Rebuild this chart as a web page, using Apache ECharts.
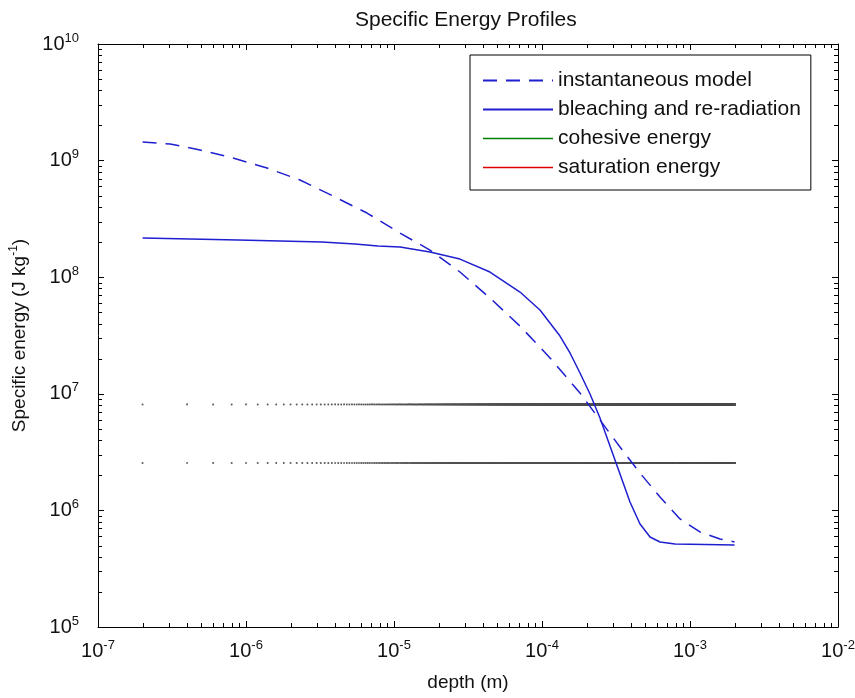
<!DOCTYPE html>
<html><head><meta charset="utf-8">
<script src="https://cdn.jsdelivr.net/npm/echarts@6/dist/echarts.min.js"></script>
<style>html,body{margin:0;padding:0;background:#fff}#c{width:855px;height:698px}</style>
</head><body><div id="c"></div>
<script>
const chartTitle = 'Specific Energy Profiles';
const xAxisTitle = 'depth (m)';
const yAxisTitle = ['Specific energy (J kg', '-1', ')'];
const seriesNames = ['instantaneous model', 'bleaching and re-radiation', 'cohesive energy', 'saturation energy'];
const xRange = [1e-7, 1e-2];
const yRange = [1e5, 1e10];

// instantaneous model (dashed)
const instantDepth = [2e-7, 3.07e-7, 4.89e-7, 8.17e-7, 1.386e-6, 2.317e-6, 3.87e-6, 6.57e-6, 1.098e-5, 1.75e-5, 2.79e-5, 4.45e-5, 7.10e-5, 1.133e-4, 1.806e-4, 2.465e-4, 3.365e-4, 4.595e-4, 6.27e-4, 8.56e-4, 1.168e-3, 1.595e-3, 2e-3];
const instantEnergy = [1.444e9, 1.388e9, 1.233e9, 1.053e9, 8.64e8, 6.82e8, 4.97e8, 3.55e8, 2.39e8, 1.71e8, 1.108e8, 6.63e7, 3.81e7, 2.03e7, 1.016e7, 5.96e6, 3.50e6, 2.09e6, 1.303e6, 8.44e5, 6.53e5, 5.68e5, 5.36e5];

// bleaching and re-radiation (solid)
const bleachDepth = [2e-7, 8.83e-7, 3.26e-6, 5.45e-6, 7.79e-6, 1.098e-5, 1.75e-5, 2.79e-5, 4.45e-5, 7.10e-5, 9.69e-5, 1.323e-4, 1.546e-4, 1.806e-4, 2.11e-4, 2.465e-4, 2.88e-4, 3.365e-4, 3.93e-4, 4.595e-4, 5.37e-4, 6.27e-4, 7.92e-4, 2e-3];
const bleachEnergy = [2.169e8, 2.084e8, 2.004e8, 1.926e8, 1.852e8, 1.816e8, 1.645e8, 1.43e8, 1.108e8, 7.46e7, 5.23e7, 3.13e7, 2.24e7, 1.508e7, 9.96e6, 6.2e6, 3.57e6, 2.05e6, 1.18e6, 7.65e5, 5.91e5, 5.36e5, 5.15e5, 5.05e5];

// constant levels
const cohesiveEnergy = 8.1e6;
const saturationEnergy = 2.55e6;

// sampling grid of the constant-level series (linear depth steps)
const sampleStart = 2e-7, sampleStep = 2e-7, sampleCount = 10000;
const sampleDepths = [];
for (let i = 0; i < sampleCount; i++) sampleDepths.push(sampleStart + i * sampleStep);

// minor tick positions (2..9 x 10^k)
const xMinorTicks = [], yMinorTicks = [];
for (let k = -7; k <= -3; k++) for (let m = 2; m <= 9; m++) xMinorTicks.push(m * Math.pow(10, k));
for (let k = 5; k <= 9; k++) for (let m = 2; m <= 9; m++) yMinorTicks.push(m * Math.pow(10, k));

const FONT = '"Liberation Sans", Arial, sans-serif';
const BLUE = '#1f1fd0';

function pow10Label(v) {
  const e = Math.round(Math.log10(v));
  return '{b|10}{s|' + e + '}';
}
const labelRich = {
  b: { fontSize: 20, fontFamily: FONT, color: '#111', lineHeight: 22 },
  s: { fontSize: 13, fontFamily: FONT, color: '#111', lineHeight: 13, padding: [0, 0, 12, 0] }
};

const zip = (xs, ys) => xs.map((x, i) => [x, ys[i]]);

const chart = echarts.init(document.getElementById('c'), null, { renderer: 'canvas' });

const axisCommon = {
  type: 'log', logBase: 10,
  axisLine: { show: true, lineStyle: { color: '#000', width: 1 } },
  axisTick: { show: true, inside: true, length: 6, lineStyle: { color: '#000', width: 1 } },
  splitLine: { show: false },
  minorTick: { show: false },
  minorSplitLine: { show: false }
};

function minorTickSeries(values, isX) {
  return {
    type: 'custom', silent: true, z: 10, animation: false,
    xAxisIndex: 0, yAxisIndex: 0,
    data: values.map(v => isX ? [v, 1e7] : [1e-4, v]),
    encode: { x: 0, y: 1 },
    renderItem: function (params, api) {
      const cs = params.coordSys;
      const p = api.coord([api.value(0), api.value(1)]);
      const L = 4;
      const st = { stroke: '#000', lineWidth: 1 };
      if (isX) {
        const x = Math.round(p[0]) + 0.5;
        return { type: 'group', children: [
          { type: 'line', shape: { x1: x, y1: cs.y + cs.height, x2: x, y2: cs.y + cs.height - L }, style: st },
          { type: 'line', shape: { x1: x, y1: cs.y, x2: x, y2: cs.y + L }, style: st }
        ]};
      } else {
        const y = Math.round(p[1]) + 0.5;
        return { type: 'group', children: [
          { type: 'line', shape: { x1: cs.x, y1: y, x2: cs.x + L, y2: y }, style: st },
          { type: 'line', shape: { x1: cs.x + cs.width, y1: y, x2: cs.x + cs.width - L, y2: y }, style: st }
        ]};
      }
    }
  };
}

const option = {
  backgroundColor: '#fff',
  animation: false,
  title: {
    text: chartTitle, left: 350, top: 5,
    textStyle: { fontSize: 21, fontWeight: 'normal', fontFamily: FONT, color: '#111' }
  },
  grid: { left: 98, top: 44, right: 17, bottom: 71, containLabel: false, outerBoundsMode: 'none' },
  legend: {
    orient: 'vertical', left: 470, top: 55,
    padding: [15, 10, 12, 12],
    itemWidth: 70, itemHeight: 14, itemGap: 8,
    borderColor: '#000', borderWidth: 1, backgroundColor: '#fff',
    textStyle: { fontSize: 21, lineHeight: 21, fontFamily: FONT, color: '#111' },
    itemStyle: { opacity: 0 },
    selectedMode: false,
    data: [
      { name: seriesNames[0] },
      { name: seriesNames[1] },
      { name: seriesNames[2], lineStyle: { color: '#008000', opacity: 1, width: 1.5, type: 'solid' } },
      { name: seriesNames[3], lineStyle: { color: '#e00000', opacity: 1, width: 1.5, type: 'solid' } }
    ]
  },
  xAxis: [
    Object.assign({}, axisCommon, {
      position: 'bottom', min: xRange[0], max: xRange[1],
      name: xAxisTitle, nameLocation: 'middle', nameGap: 46,
      nameTextStyle: { fontSize: 19, fontFamily: FONT, color: '#111' },
      axisLabel: { show: true, margin: 13, formatter: pow10Label, rich: labelRich }
    }),
    Object.assign({}, axisCommon, {
      position: 'top', min: xRange[0], max: xRange[1],
      axisLabel: { show: false }
    })
  ],
  yAxis: [
    Object.assign({}, axisCommon, {
      position: 'left', min: yRange[0], max: yRange[1],
      name: '{n|' + yAxisTitle[0] + '}{s|' + yAxisTitle[1] + '}{n|' + yAxisTitle[2] + '}',
      nameLocation: 'middle', nameGap: 62, nameRotate: 90,
      nameTextStyle: {
        rich: {
          n: { fontSize: 19, fontFamily: FONT, color: '#111', lineHeight: 22 },
          s: { fontSize: 12, fontFamily: FONT, color: '#111', lineHeight: 12, padding: [0, 0, 12, 0] }
        }
      },
      axisLabel: { show: true, margin: 19, formatter: pow10Label, rich: labelRich }
    }),
    Object.assign({}, axisCommon, {
      position: 'right', min: yRange[0], max: yRange[1],
      axisLabel: { show: false }
    })
  ],
  series: [
    {
      name: seriesNames[2], type: 'line', silent: true,
      data: sampleDepths.map(d => [d, cohesiveEnergy]),
      symbol: 'rect', symbolSize: 1.7, showSymbol: true,
      itemStyle: { color: '#505050' },
      lineStyle: { opacity: 0, width: 0, color: '#008000' },
      z: 2
    },
    {
      name: seriesNames[3], type: 'line', silent: true,
      data: sampleDepths.map(d => [d, saturationEnergy]),
      symbol: 'rect', symbolSize: 1.7, showSymbol: true,
      itemStyle: { color: '#505050' },
      lineStyle: { opacity: 0, width: 0, color: '#e00000' },
      z: 2
    },
    {
      name: seriesNames[0], type: 'line', silent: true,
      data: zip(instantDepth, instantEnergy),
      symbol: 'none', smooth: false,
      lineStyle: { color: BLUE, width: 1.5, type: [14, 9] },
      itemStyle: { color: BLUE },
      z: 3
    },
    {
      name: seriesNames[1], type: 'line', silent: true,
      data: zip(bleachDepth, bleachEnergy),
      symbol: 'none', smooth: false,
      lineStyle: { color: BLUE, width: 1.5, type: 'solid' },
      itemStyle: { color: BLUE },
      z: 3
    },
    minorTickSeries(xMinorTicks, true),
    minorTickSeries(yMinorTicks, false)
  ]
};
chart.setOption(option);
</script>
</body></html>
